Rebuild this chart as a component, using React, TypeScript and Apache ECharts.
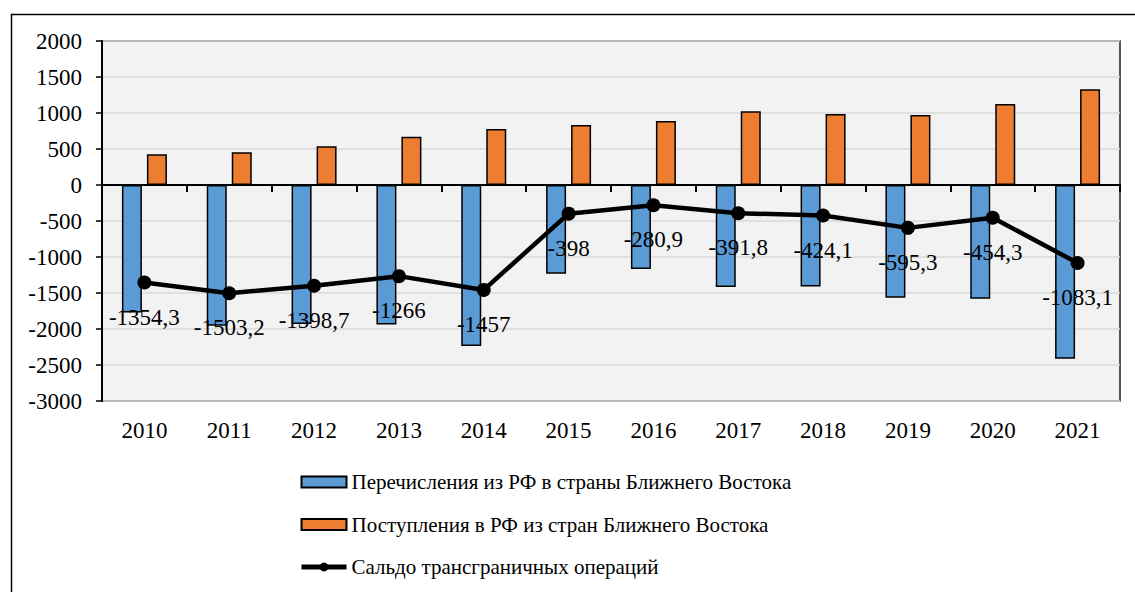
import React, { useEffect, useRef } from "react";
import * as echarts from "echarts";

const years = ["2010", "2011", "2012", "2013", "2014", "2015", "2016", "2017", "2018", "2019", "2020", "2021"];
const outflows = [-1770, -1955, -1932, -1937, -2235, -1232, -1168, -1415, -1410, -1567, -1580, -2412];
const inflows = [426, 454, 537, 671, 778, 833, 889, 1023, 986, 972, 1125, 1329];
const balance = [-1354.3, -1503.2, -1398.7, -1266, -1457, -398, -280.9, -391.8, -424.1, -595.3, -454.3, -1083.1];

const nameOut = "Перечисления из РФ в страны Ближнего Востока";
const nameIn = "Поступления в РФ из стран Ближнего Востока";
const nameBal = "Сальдо трансграничных операций";

const FONT = "Liberation Serif";

export default function App() {
  const ref = useRef<HTMLDivElement>(null);
  useEffect(() => {
    if (!ref.current) return;
    const chart = echarts.init(ref.current, null, { renderer: "svg" });
    chart.setOption({
      animation: false,
      backgroundColor: "#ffffff",
      textStyle: { fontFamily: FONT, color: "#000" },
      graphic: [
        {
          type: "rect",
          left: 9,
          top: 12,
          shape: { x: 0, y: 0, width: 1200, height: 700 },
          style: { fill: "none", stroke: "#000", lineWidth: 1.5 },
          silent: true,
          z: -10,
        },
      ],
      grid: {
        left: 102,
        top: 41,
        right: 15,
        bottom: 191,
        show: true,
        backgroundColor: "#f2f2f2",
        borderColor: "#222",
        borderWidth: 1.5,
      },
      legend: {
        orient: "vertical",
        left: 299,
        top: 470,
        padding: 0,
        itemWidth: 45,
        itemHeight: 11,
        itemGap: 18.5,
        textStyle: { fontFamily: FONT, fontSize: 21, color: "#000", lineHeight: 24 },
        data: [
          { name: nameOut, icon: "rect" },
          { name: nameIn, icon: "rect" },
          { name: nameBal, lineStyle: { width: 5, color: "#000" } },
        ],
      },
      xAxis: [
        {
          type: "category",
          data: years,
          position: "bottom",
          axisLine: { show: true, onZero: true, lineStyle: { color: "#000", width: 2 } },
          axisTick: { show: true, length: 7, lineStyle: { color: "#000", width: 2 } },
          axisLabel: { show: false },
          splitLine: { show: false },
        },
        {
          type: "category",
          data: years,
          position: "bottom",
          axisLine: { show: false, onZero: false },
          axisTick: { show: false },
          axisLabel: { show: true, interval: 0, margin: 18, fontFamily: FONT, fontSize: 23, color: "#000" },
          splitLine: { show: false },
        },
      ],
      yAxis: {
        type: "value",
        min: -3000,
        max: 2000,
        interval: 500,
        axisLine: { show: true, lineStyle: { color: "#000", width: 2 } },
        axisTick: { show: true, length: 6, lineStyle: { color: "#000", width: 1.5 } },
        axisLabel: {
          margin: 20,
          fontFamily: FONT,
          fontSize: 23,
          color: "#000",
          formatter: (v: number) => String(v),
        },
        splitLine: { show: true, lineStyle: { color: "#d9d9d9", width: 1.5 } },
      },
      series: [
        {
          name: nameOut,
          type: "bar",
          xAxisIndex: 0,
          data: outflows,
          barWidth: 20,
          barGap: "25%",
          itemStyle: { color: "#5b9bd5", borderColor: "#000", borderWidth: 1.5 },
        },
        {
          name: nameIn,
          type: "bar",
          xAxisIndex: 0,
          data: inflows,
          barWidth: 20,
          barGap: "25%",
          itemStyle: { color: "#ed7d31", borderColor: "#000", borderWidth: 1.5 },
        },
        {
          name: nameBal,
          type: "line",
          xAxisIndex: 0,
          data: balance,
          symbol: "circle",
          symbolSize: 14,
          z: 5,
          lineStyle: { color: "#000", width: 4.5 },
          itemStyle: { color: "#000" },
          label: {
            show: true,
            position: "bottom",
            distance: 16,
            fontFamily: FONT,
            fontSize: 23,
            color: "#000",
            formatter: (p: any) => String(p.value).replace(".", ","),
          },
        },
      ],
    });
    return () => chart.dispose();
  }, []);
  return (
    <div
      ref={ref}
      style={{ position: "absolute", left: 0, top: 0, width: 1135, height: 592 }}
    />
  );
}
